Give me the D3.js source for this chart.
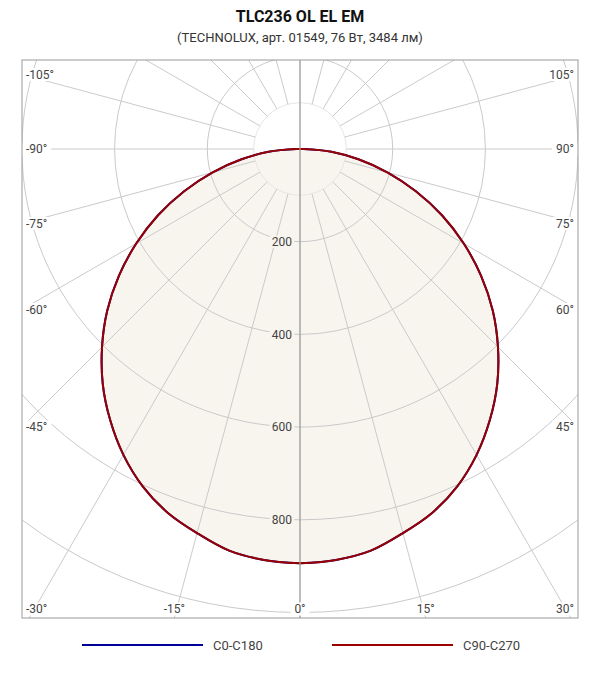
<!DOCTYPE html>
<html><head><meta charset="utf-8">
<script src="https://cdn.jsdelivr.net/npm/d3@7"></script>
<style>
body{margin:0;background:#fff}
svg{display:block;font-family:Roboto, "Noto Sans", sans-serif}
</style>
</head><body>
<svg id="chart" width="600" height="680"></svg>
<script>
// ---- data ----
const title = "TLC236 OL EL EM";
const subtitle = "(TECHNOLUX, арт. 01549, 76 Вт, 3484 лм)";
const gammaAngles = [0,5,10,15,20,25,30,35,40,45,50,55,60,65,70,75,80,85,90];
const c0c180  = [894,890,880,858,835,803,762,714,662,604,543,477,408,338,266,196,128,68,8];
const c90c270 = [894,890,880,858,835,803,762,714,662,604,543,477,408,338,266,196,128,68,8];
const radialTickLabels = [200,400,600,800];
const gridCircleValues = [200,400,600,800,1000,1200];
const innerCircleValue = 100;
const spokeAngles = [0,15,30,45,60,75,90,105,120,135,150,165,180,195,210,225,240,255,270,285,300,315,330,345];
const angleTickLabels = [-105,-90,-75,-60,-45,-30,-15,0,15,30,45,60,75,90,105];
const legendNames = ["C0-C180","C90-C270"];
const seriesColors = ["#000099","#990000"];

// ---- layout ----
const svg = d3.select("#chart");
const X0 = 22, Y0 = 60, X1 = 578, Y1 = 618;
const cx = 300, cy = 149;
const r = d3.scaleLinear().domain([0, 1000]).range([0, 463.5]);
const rad = d => d * Math.PI / 180;

svg.append("text").attr("x", 300).attr("y", 22).attr("text-anchor", "middle")
  .attr("font-size", 16).attr("font-weight", "bold").attr("fill", "#111").text(title);
svg.append("text").attr("x", 300).attr("y", 42).attr("text-anchor", "middle")
  .attr("font-size", 13).attr("fill", "#333").text(subtitle);

svg.append("defs").append("clipPath").attr("id", "plotclip")
  .append("rect").attr("x", X0).attr("y", Y0).attr("width", X1 - X0).attr("height", Y1 - Y0);

svg.append("rect").attr("x", X0).attr("y", Y0).attr("width", X1 - X0).attr("height", Y1 - Y0)
  .attr("fill", "#fff");

const plot = svg.append("g").attr("clip-path", "url(#plotclip)");
const g = plot.append("g").attr("transform", `translate(${cx},${cy})`);

// curve points: right half (C90) 0..90, left half (C270) 90..0
function curvePoints(vals) {
  const pts = gammaAngles.map((a, i) => [Math.PI - rad(a), r(vals[i])]);
  const left = gammaAngles.map((a, i) => [Math.PI + rad(a), r(vals[i])]).reverse();
  return pts.concat(left);
}
const line = d3.lineRadial().angle(d => d[0]).radius(d => d[1]).curve(d3.curveCatmullRomClosed.alpha(0.5));

// fill
g.append("path").attr("d", line(curvePoints(c90c270))).attr("fill", "#f8f5ee").attr("stroke", "none");

// grid circles
g.append("circle").attr("r", r(innerCircleValue)).attr("fill", "none").attr("stroke", "#e6e6e6");
g.selectAll("circle.grid").data(gridCircleValues).join("circle").attr("class", "grid")
  .attr("r", d => r(d)).attr("fill", "none").attr("stroke", "#cacaca").attr("stroke-width", 1);

// spokes
g.selectAll("line.spoke").data(spokeAngles.filter(a => a !== 0 && a !== 180)).join("line").attr("class", "spoke")
  .attr("x1", a => r(innerCircleValue) * Math.sin(rad(a)))
  .attr("y1", a => r(innerCircleValue) * Math.cos(rad(a)))
  .attr("x2", a => 900 * Math.sin(rad(a)))
  .attr("y2", a => 900 * Math.cos(rad(a)))
  .attr("stroke", "#cacaca").attr("stroke-width", 1);
// vertical axis
plot.append("line").attr("x1", cx).attr("x2", cx).attr("y1", Y0).attr("y2", Y1)
  .attr("stroke", "#9a9a9a").attr("stroke-width", 1.3);

// curves
[c0c180, c90c270].forEach((vals, i) => {
  g.append("path").attr("d", line(curvePoints(vals))).attr("fill", "none")
    .attr("stroke", seriesColors[i]).attr("stroke-width", 2).attr("stroke-linejoin", "round");
});

// radial tick labels
radialTickLabels.forEach(v => {
  const t = svg.append("text").attr("x", cx - 8).attr("y", cy + r(v)).attr("dy", "0.35em")
    .attr("text-anchor", "end").attr("font-size", 12).attr("fill", "#444").text(v);
  const bb = t.node().getBBox();
  svg.insert("rect", () => t.node()).attr("x", bb.x - 2).attr("y", cy + r(v) - 6)
    .attr("width", bb.width + 4).attr("height", 12).attr("fill", "#f8f5ee");
});

// angle labels on the frame
function edgePoint(deg) {
  const a = rad(deg), dx = Math.sin(a), dy = Math.cos(a);
  let t = Infinity;
  if (dx > 1e-9) t = Math.min(t, (X1 - cx) / dx);
  if (dx < -1e-9) t = Math.min(t, (X0 - cx) / dx);
  if (dy > 1e-9) t = Math.min(t, (Y1 - cy) / dy);
  if (dy < -1e-9) t = Math.min(t, (Y0 - cy) / dy);
  return [cx + t * dx, cy + t * dy];
}
angleTickLabels.forEach(d => {
  const [ex, ey] = edgePoint(d);
  const grp = svg.append("g");
  const rect = grp.append("rect").attr("fill", "#fff");
  const t = grp.append("text").attr("text-anchor", "middle").attr("dy", "0.35em")
    .attr("font-size", 12).attr("fill", "#444").text(d + "°");
  const w = t.node().getComputedTextLength() + 8, h = 13;
  const px = Math.max(X0 + w / 2, Math.min(X1 - w / 2, ex));
  const py = Math.max(Y0 + 9, Math.min(Y1 - 9, ey));
  t.attr("x", px).attr("y", py);
  rect.attr("x", px - w / 2).attr("y", py - h / 2).attr("width", w).attr("height", h);
});

// frame
svg.append("rect").attr("x", X0).attr("y", Y0).attr("width", X1 - X0).attr("height", Y1 - Y0)
  .attr("fill", "none").attr("stroke", "#999").attr("stroke-width", 1);

// legend
const legendX = [82, 332];
legendNames.forEach((name, i) => {
  svg.append("line").attr("x1", legendX[i]).attr("x2", legendX[i] + 121).attr("y1", 645).attr("y2", 645)
    .attr("stroke", seriesColors[i]).attr("stroke-width", 2);
  svg.append("text").attr("x", legendX[i] + 131).attr("y", 645).attr("dy", "0.35em")
    .attr("font-size", 13).attr("fill", "#444").text(name);
});
</script>
</body></html>
